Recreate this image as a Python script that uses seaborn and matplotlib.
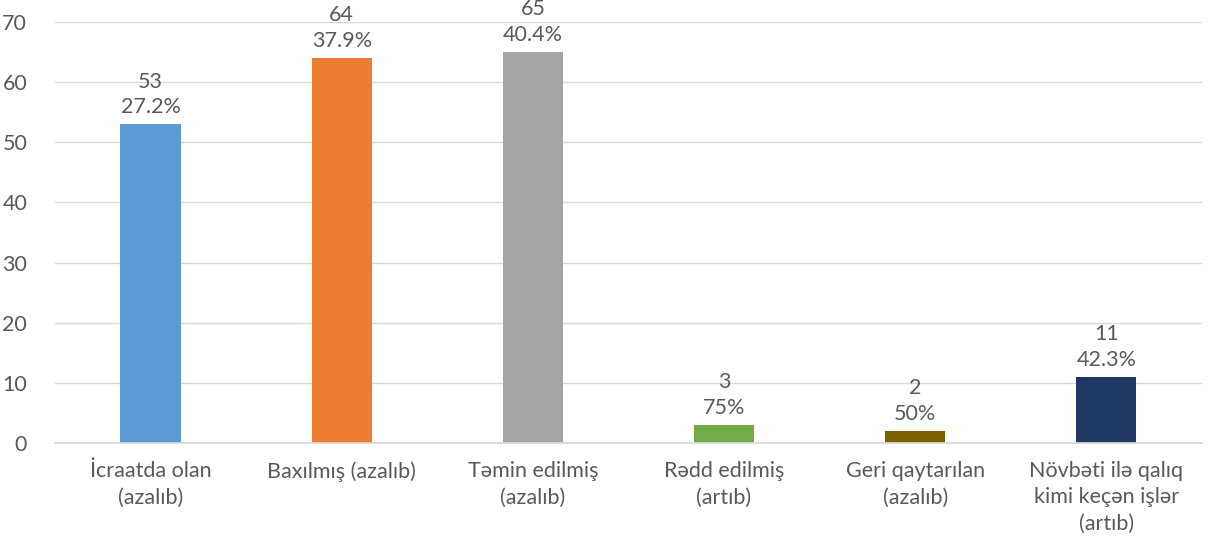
import numpy as np
import pandas as pd
import matplotlib.pyplot as plt
import seaborn as sns

categories = ["İcraatda olan\n(azalıb)", "Baxılmış (azalıb)", "Təmin edilmiş\n(azalıb)",
              "Rədd edilmiş\n(artıb)", "Geri qaytarılan\n(azalıb)",
              "Növbəti ilə qalıq\nkimi keçən işlər\n(artıb)"]
values = [53, 64, 65, 3, 2, 11]
shares = ["27.2%", "37.9%", "40.4%", "75%", "50%", "42.3%"]
colors = ["#5B9BD5", "#ED7D31", "#A5A5A5", "#70AD47", "#7F6000", "#203864"]

sns.set_theme(style="white")
plt.rcParams["font.family"] = ["Lato", "DejaVu Sans"]
text_c = "#595959"
fs = 15.5

df = pd.DataFrame({"cat": categories, "val": values})

fig = plt.figure(figsize=(12.08, 5.48), dpi=100)
ax = fig.add_axes([0.0455, 0.1916, 0.9495, 0.7684])
sns.barplot(data=df, x="cat", y="val", hue="cat", palette=colors, width=0.315,
            legend=False, ax=ax, saturation=1, linewidth=0)

ax.set_ylim(0, 70)
ax.set_xlim(-0.5, len(categories) - 0.5)
ax.set_yticks(range(0, 71, 10))
ax.yaxis.grid(True, color="#D9D9D9", lw=1)
ax.set_axisbelow(True)
for s in ["top", "right", "left"]:
    ax.spines[s].set_visible(False)
ax.spines["bottom"].set_color("#D9D9D9")
ax.set_xlabel("")
ax.set_ylabel("")
ax.tick_params(axis="y", length=0, labelsize=fs, labelcolor=text_c, pad=20)
ax.tick_params(axis="x", which="major", length=0, labelsize=fs, labelcolor=text_c, pad=13)
ax.set_xticks(np.arange(-0.5, len(categories), 1), minor=True)
ax.tick_params(axis="x", which="minor", length=6, color="#D9D9D9", width=1)
for lbl in ax.get_xticklabels():
    lbl.set_linespacing(1.4)

for i, (v, s) in enumerate(zip(values, shares)):
    ax.annotate(f"{v}\n{s}", (i, v), xytext=(0, 5), textcoords="offset points",
                ha="center", va="bottom", fontsize=fs, color=text_c, linespacing=1.35)

fig.savefig("out.png", dpi=100)
